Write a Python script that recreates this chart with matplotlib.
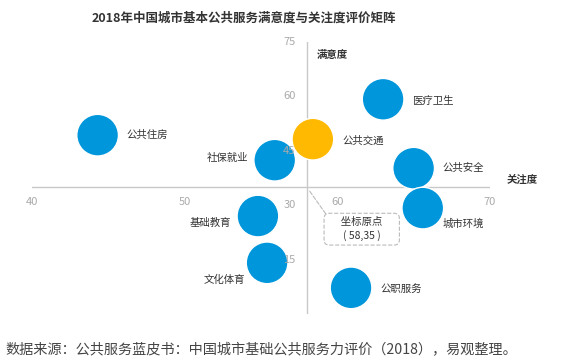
import matplotlib.pyplot as plt

plt.rcParams["font.family"] = ["Noto Sans CJK SC", "DejaVu Sans"]

# services, attention (x) and satisfaction (y)
services = ["公共住房", "社保就业", "公共交通", "医疗卫生", "公共安全",
            "城市环境", "基础教育", "文化体育", "公职服务"]
attention = [44.3, 55.9, 58.4, 63.0, 65.0, 65.6, 54.8, 55.4, 60.9]
satisfaction = [49.3, 42.4, 48.2, 59.2, 40.2, 29.2, 27.0, 14.1, 7.2]
highlight = "公共交通"

origin = (58, 35)
x_ticks = [40, 50, 60, 70]
y_ticks = [15, 30, 45, 60, 75]

# label placement (offset in points from bubble centre, alignment)
label_pos = {
    "公共住房": (21, 0, "left"),
    "社保就业": (-19, 2, "right"),
    "公共交通": (21, -1, "left"),
    "医疗卫生": (21, -1, "left"),
    "公共安全": (21, 0, "left"),
    "城市环境": (14, -11, "left"),
    "基础教育": (-19, -5, "right"),
    "文化体育": (-16, -12, "right"),
    "公职服务": (21, -1, "left"),
}

blue = "#0096DB"
orange = "#FFB900"
grey_line = "#C8C8C8"
tick_col = "#AAAAAA"
text_col = "#333333"

fig = plt.figure(figsize=(5.61, 3.64), dpi=100)
ax = fig.add_axes([0.057, 0.1374, 0.8164, 0.7473])
ax.set_xlim(40, 70)
ax.set_ylim(0, 75)
ax.axis("off")

# cross axes through the origin
ax.plot([40, 70], [origin[1], origin[1]], color=grey_line, lw=1, zorder=1)
ax.plot([origin[0], origin[0]], [0, 75], color=grey_line, lw=1, zorder=1)

for v in x_ticks:
    ax.annotate(str(v), xy=(v, origin[1]), xytext=(0, -7), textcoords="offset points",
                ha="center", va="top", fontsize=8, color=tick_col, zorder=4)
for v in y_ticks:
    ax.annotate(str(v), xy=(origin[0], v), xytext=(-8, 0), textcoords="offset points",
                ha="right", va="center", fontsize=8, color=tick_col, zorder=4)

colors = [orange if s == highlight else blue for s in services]
ax.scatter(attention, satisfaction, s=900, c=colors, edgecolors="white",
           linewidths=1, zorder=3)

for s, x, y in zip(services, attention, satisfaction):
    dx, dy, ha = label_pos[s]
    ax.annotate(s, xy=(x, y), xytext=(dx, dy), textcoords="offset points",
                ha=ha, va="center", fontsize=7.5, color=text_col, zorder=4)

# axis titles
ax.annotate("满意度", xy=(origin[0], 75), xytext=(7, -9.5), textcoords="offset points",
            ha="left", va="center", fontsize=7.5, fontweight="bold", color=text_col)
ax.annotate("关注度", xy=(70, origin[1]), xytext=(12, 5), textcoords="offset points",
            ha="left", va="center", fontsize=7.5, fontweight="bold", color=text_col)

# origin callout
ax.annotate("\u3000 坐标原点 \u3000\n( %d,%d )" % origin, xy=origin, xytext=(61.6, 23.4),
            ha="center", va="center", fontsize=7.5, color=text_col, linespacing=1.3,
            bbox=dict(boxstyle="round,pad=0.4,rounding_size=0.5", fc="white",
                      ec="#BBBBBB", ls="--", lw=0.8),
            arrowprops=dict(arrowstyle="-", ls="--", color="#BBBBBB", lw=0.8,
                            relpos=(0, 1), shrinkA=0, shrinkB=3),
            zorder=2)

fig.text(0.435, 0.95, "2018年中国城市基本公共服务满意度与关注度评价矩阵",
         ha="center", va="center", fontsize=9, fontweight="bold", color=text_col)
fig.text(0.009, 0.038, "数据来源：公共服务蓝皮书：中国城市基础公共服务力评价（2018），易观整理。",
         ha="left", va="center", fontsize=10.2, color="#444444")

fig.savefig("out.png", dpi=100)
